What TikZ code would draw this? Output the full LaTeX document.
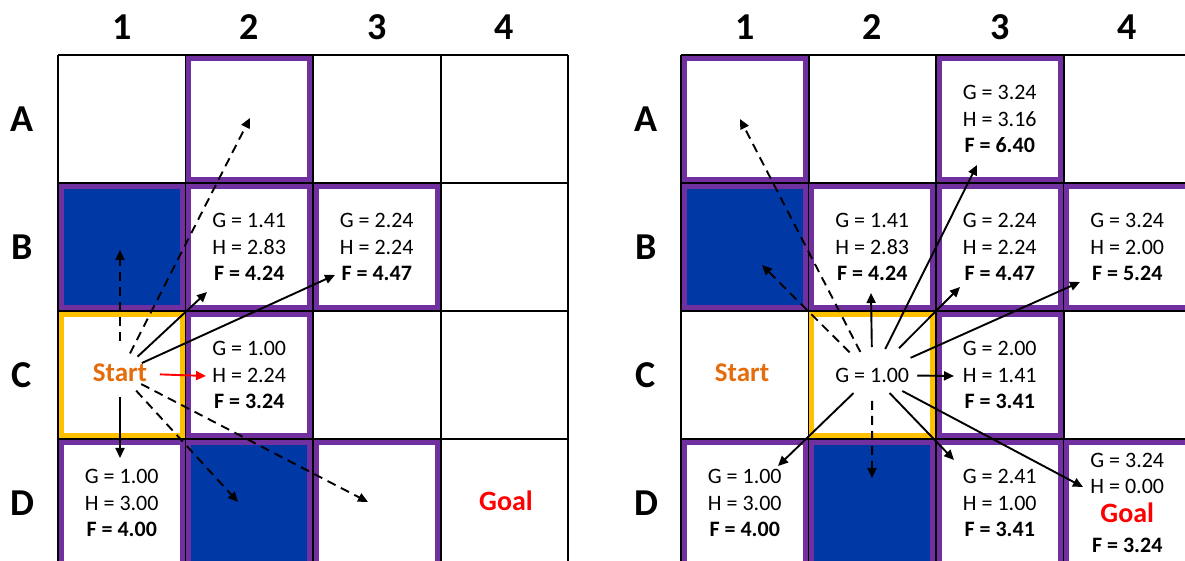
\documentclass[tikz,border=0pt]{standalone}
\usepackage{fontspec}
\setmainfont{Carlito}
\usepackage{xcolor}
\usepackage{tikz}
\usetikzlibrary{arrows.meta}
\definecolor{ASPurple}{RGB}{112, 48, 160}
\definecolor{ASBlue}{RGB}{0, 57, 166}
\definecolor{ASGold}{RGB}{255, 192, 0}
\definecolor{ASOrange}{RGB}{228, 108, 10}
\definecolor{ASRed}{RGB}{255, 0, 0}

\begin{document}
\begin{tikzpicture}[x=0.5pt, y=-0.5pt,
        gridline/.style={line width=1pt, black},
        head/.style={font=\fontsize{19}{21}\selectfont\bfseries},
        cellbox/.style={draw=ASPurple, line width=2.5pt, minimum width=60.3pt, minimum height=60.5pt,
            inner sep=0pt, align=center, font=\fontsize{11}{13.25}\selectfont},
        wall/.style={cellbox, fill=ASBlue},
        current/.style={cellbox, draw=ASGold},
        starttext/.style={text=ASOrange, font=\fontsize{13.5}{15}\selectfont\bfseries, inner sep=0pt},
        goaltext/.style={text=ASRed, font=\fontsize{14}{16}\selectfont\bfseries, inner sep=0pt},
        link/.style={-{Triangle[length=5pt, width=4.5pt]}, line width=0.95pt, shorten <=12pt},
        probe/.style={link, dash pattern=on 4.5pt off 3pt}]
        \path[use as bounding box, fill=white] (0,0) rectangle (1185,561);

        % Grids
        \foreach \gx in {58, 681} {
            \foreach \i in {0,...,4} {
                \draw[gridline] ({\gx+127.5*\i},55) -- ({\gx+127.5*\i},567);
                \draw[gridline] (\gx,{55+128*\i}) -- ({\gx+510},{55+128*\i});
            }
        }

        % Column and row labels
        \foreach \c in {1,...,4} {
            \node[head] (l-col-\c) at ({58+127.5*(\c-0.5)},27) {\c};
            \node[head] (r-col-\c) at ({681+127.5*(\c-0.5)},27) {\c};
        }
        \foreach \r/\l in {1/A, 2/B, 3/C, 4/D} {
            \node[head] (l-row-\l) at (22,{55+128*(\r-0.5)}) {\l};
            \node[head] (r-row-\l) at (646,{55+128*(\r-0.5)}) {\l};
        }

        % Left grid: first step
        \node[cellbox] (l-a2) at (249.25,119) {};
        \node[wall] (l-b1) at (121.75,247) {};
        \node[cellbox] (l-b2) at (249.25,247) {G = 1.41\\H = 2.83\\\textbf{F = 4.24}};
        \node[cellbox] (l-b3) at (376.75,247) {G = 2.24\\H = 2.24\\\textbf{F = 4.47}};
        \node[current] (l-c1) at (121.75,375) {};
        \node[cellbox] (l-c2) at (249.25,375) {G = 1.00\\H = 2.24\\\textbf{F = 3.24}};
        \node[cellbox] (l-d1) at (121.75,503) {G = 1.00\\H = 3.00\\\textbf{F = 4.00}};
        \node[wall] (l-d2) at (249.25,503) {};
        \node[cellbox] (l-d3) at (376.75,503) {};
        \node[starttext] (l-start) at (120,373) {Start};
        \node[goaltext] (l-goal) at (506,501) {Goal};

        \foreach \n/\x/\y in {l-tip-b1/120/250, l-tip-a2/250/118, l-tip-b2/207/292, l-tip-b3/335/275,
                l-tip-c2/206/376, l-tip-d1/120/458, l-tip-d2/238/502, l-tip-d3/368/502}
            \coordinate (\n) at (\x,\y);

        \draw[probe, shorten <=16pt] (l-start.center) -- (l-tip-b1);
        \draw[probe, shorten <=11pt] (l-start.center) -- (l-tip-a2);
        \draw[link] (l-start.center) -- (l-tip-b2);
        \draw[link] (l-start.center) -- (l-tip-b3);
        \draw[link, ASRed, shorten <=20pt] (l-start.center) -- (l-tip-c2);
        \draw[link, shorten <=12pt] (l-start.center) -- (l-tip-d1);
        \draw[probe] (l-start.center) -- (l-tip-d2);
        \draw[probe] (l-start.center) -- (l-tip-d3);

        % Right grid: second step
        \node[cellbox] (r-a1) at (744.75,119) {};
        \node[cellbox] (r-a3) at (999.75,119) {G = 3.24\\H = 3.16\\\textbf{F = 6.40}};
        \node[wall] (r-b1) at (744.75,247) {};
        \node[cellbox] (r-b2) at (872.25,247) {G = 1.41\\H = 2.83\\\textbf{F = 4.24}};
        \node[cellbox] (r-b3) at (999.75,247) {G = 2.24\\H = 2.24\\\textbf{F = 4.47}};
        \node[cellbox] (r-b4) at (1127.25,247) {G = 3.24\\H = 2.00\\\textbf{F = 5.24}};
        \node[starttext] (r-start) at (742,373) {Start};
        \node[current] (r-c2) at (872.25,375) {G = 1.00};
        \node[cellbox] (r-c3) at (999.75,375) {G = 2.00\\H = 1.41\\\textbf{F = 3.41}};
        \node[cellbox] (r-d1) at (744.75,503) {G = 1.00\\H = 3.00\\\textbf{F = 4.00}};
        \node[wall] (r-d2) at (872.25,503) {};
        \node[cellbox] (r-d3) at (999.75,503) {G = 2.41\\H = 1.00\\\textbf{F = 3.41}};
        \node[cellbox] (r-d4) at (1127.25,503) {G = 3.24\\H = 0.00\\[1pt]{\color{ASRed}\fontsize{14}{16}\selectfont\bfseries Goal}\\[2pt]\textbf{F = 3.24}};

        \foreach \n/\x/\y in {r-tip-a1/740/119, r-tip-b1/762/265, r-tip-b2/871/293, r-tip-a3/977/165,
                r-tip-b3/960/287, r-tip-b4/1080/282, r-tip-c3/954/376, r-tip-d4/1083/487,
                r-tip-d3/954/460, r-tip-d2/872/478, r-tip-d1/778/466}
            \coordinate (\n) at (\x,\y);

        \draw[probe, shorten <=13pt] (r-c2.center) -- (r-tip-a1);
        \draw[probe, shorten <=16pt] (r-c2.center) -- (r-tip-b1);
        \draw[link, shorten <=14pt] (r-c2.center) -- (r-tip-b2);
        \draw[link, shorten <=14.5pt] (r-c2.center) -- (r-tip-a3);
        \draw[link, shorten <=19pt] (r-c2.center) -- (r-tip-b3);
        \draw[link, shorten <=21pt] (r-c2.center) -- (r-tip-b4);
        \draw[link, shorten <=22.5pt] (r-c2.center) -- (r-tip-c3);
        \draw[link, shorten <=17pt] (r-c2.center) -- (r-tip-d4);
        \draw[link, shorten <=12.5pt] (r-c2.center) -- (r-tip-d3);
        \draw[probe, shorten <=13pt] (r-c2.center) -- (r-tip-d2);
        \draw[link, shorten <=13pt] (r-c2.center) -- (r-tip-d1);
    \end{tikzpicture}
\end{document}
